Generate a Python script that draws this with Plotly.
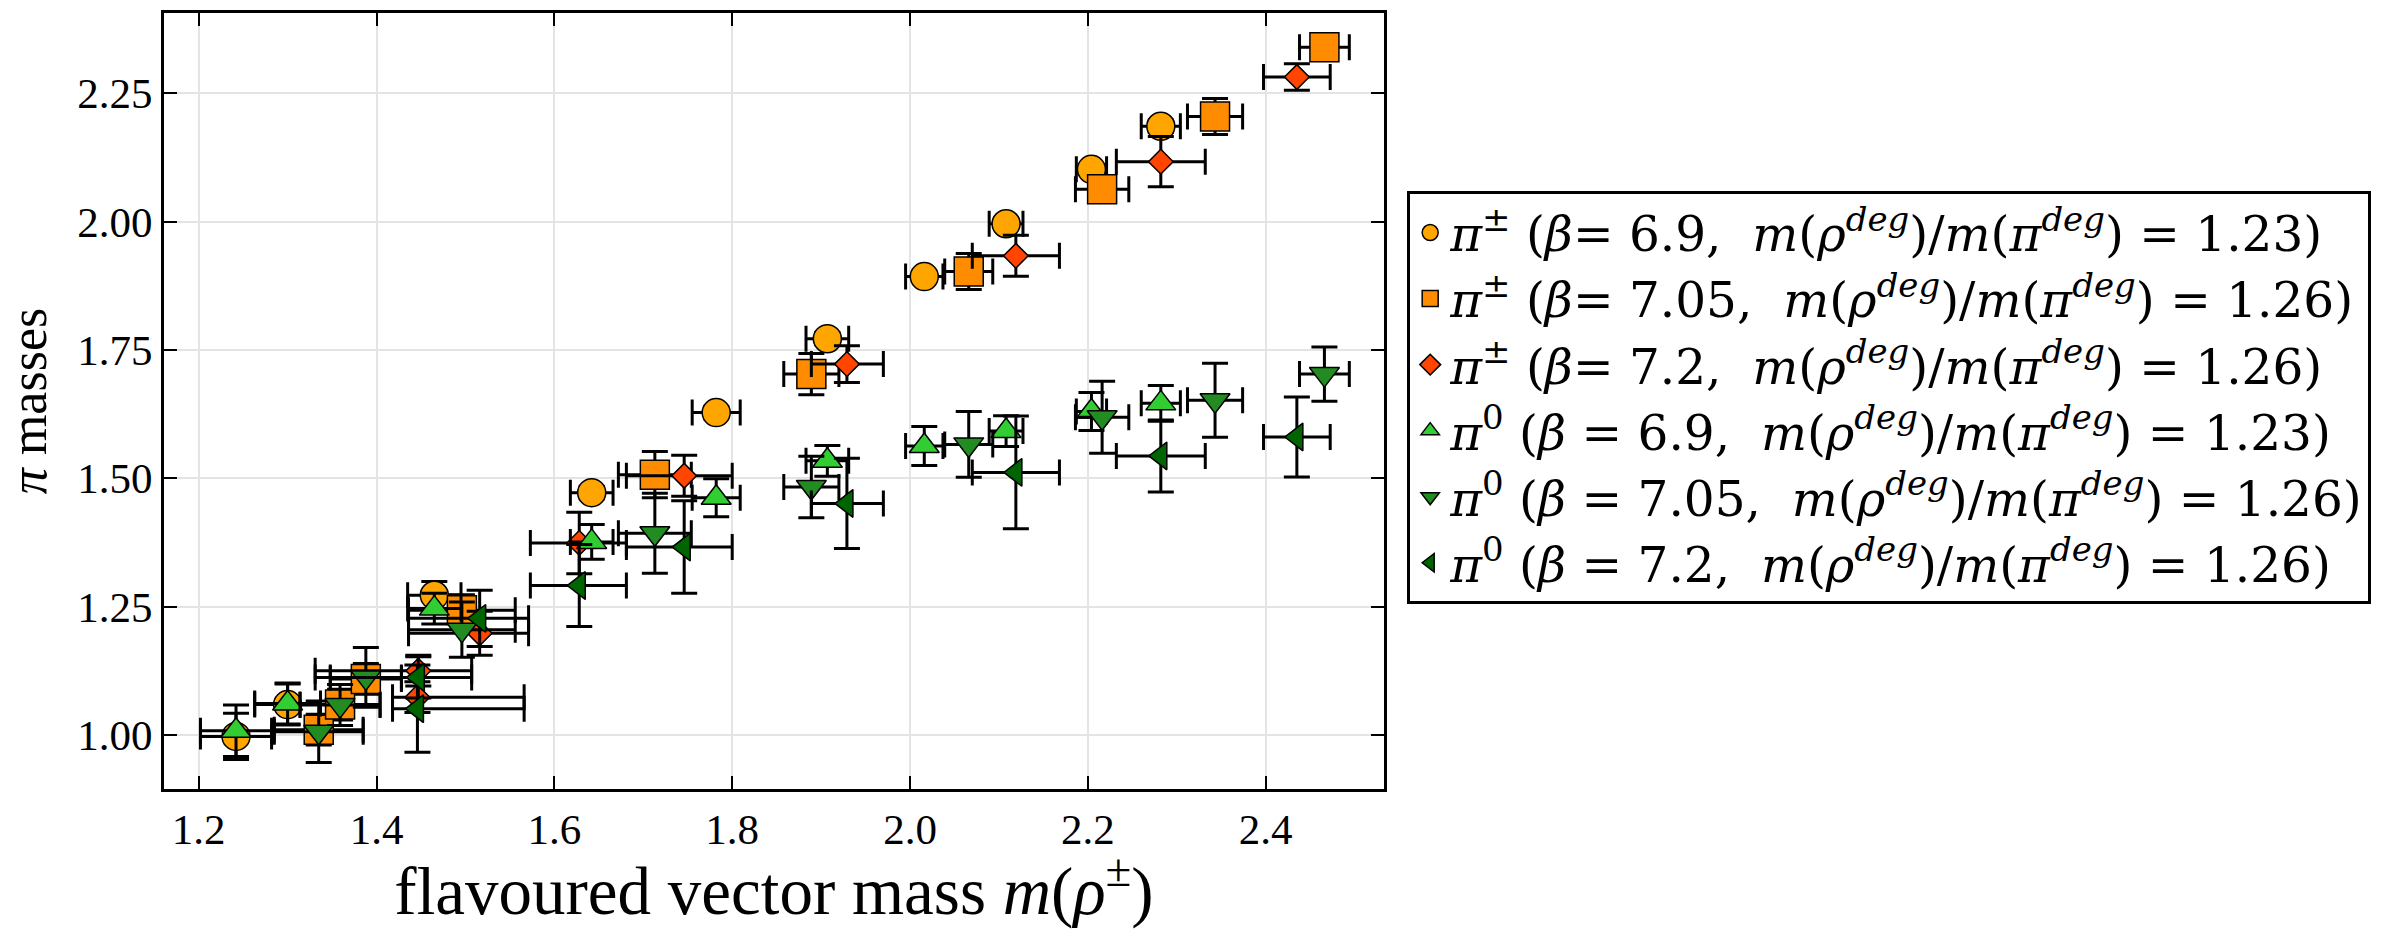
import plotly.graph_objects as go

# ---- data ----
# beta = 6.9  (pi+- circles, pi0 up-triangles) share the rho mass
x_b69 = [1.242, 1.300, 1.465, 1.642, 1.782, 1.907, 2.016, 2.108, 2.204, 2.282]
xerr_b69 = [0.040, 0.037, 0.030, 0.024, 0.027, 0.024, 0.021, 0.019, 0.017, 0.022]
pipm_b69 = [0.997, 1.059, 1.272, 1.472, 1.628, 1.772, 1.893, 1.996, 2.102, 2.186]
pipm_b69_err = [0.045, 0.040, 0.027, 0.012, 0.012, 0.012, 0.010, 0.010, 0.010, 0.012]
pi0_b69 = [1.008, 1.061, 1.246, 1.376, 1.462, 1.534, 1.563, 1.592, 1.630, 1.646]
pi0_b69_err = [0.050, 0.040, 0.030, 0.034, 0.037, 0.030, 0.038, 0.030, 0.037, 0.035]

# beta = 7.05  (pi+- squares, pi0 down-triangles)
x_b705 = [1.335, 1.359, 1.388, 1.496, 1.713, 1.889, 2.066, 2.216, 2.343, 2.466]
xerr_b705 = [0.050, 0.045, 0.040, 0.060, 0.041, 0.031, 0.027, 0.030, 0.031, 0.028]
pipm_b705 = [1.010, 1.059, 1.109, 1.243, 1.507, 1.703, 1.903, 2.063, 2.205, 2.340]
pipm_b705_err = [0.030, 0.030, 0.030, 0.030, 0.045, 0.040, 0.035, 0.025, 0.035, 0.020]
pi0_b705 = [1.006, 1.058, 1.112, 1.205, 1.393, 1.483, 1.566, 1.619, 1.652, 1.703]
pi0_b705_err = [0.060, 0.040, 0.058, 0.054, 0.078, 0.060, 0.064, 0.070, 0.072, 0.053]

# beta = 7.2  (pi+- diamonds, pi0 left-triangles)
x_b72 = [1.446, 1.447, 1.516, 1.628, 1.746, 1.929, 2.119, 2.282, 2.435]
xerr_b72_minus = [0.028, 0.116, 0.080, 0.055, 0.065, 0.040, 0.049, 0.050, 0.0375]
xerr_b72_plus = [0.120, 0.060, 0.055, 0.053, 0.054, 0.041, 0.049, 0.050, 0.0375]
pipm_b72 = [1.0735, 1.125, 1.198, 1.374, 1.505, 1.7225, 1.9335, 2.117, 2.282]
pipm_b72_err = [0.030, 0.030, 0.043, 0.060, 0.040, 0.036, 0.040, 0.049, 0.026]
pi0_b72 = [1.051, 1.112, 1.227, 1.291, 1.366, 1.451, 1.5115, 1.5435, 1.5805]
pi0_b72_err = [0.085, 0.040, 0.055, 0.080, 0.090, 0.088, 0.110, 0.070, 0.078]

x_ticks = [1.2, 1.4, 1.6, 1.8, 2.0, 2.2, 2.4]
y_ticks = [1.00, 1.25, 1.50, 1.75, 2.00, 2.25]

names = [
    "<i>π</i><sup>±</sup> (<i>β</i>= 6.9,  <i>m</i>(<i>ρ</i><sup><i>deg</i></sup>)/<i>m</i>(<i>π</i><sup><i>deg</i></sup>) = 1.23)",
    "<i>π</i><sup>±</sup> (<i>β</i>= 7.05,  <i>m</i>(<i>ρ</i><sup><i>deg</i></sup>)/<i>m</i>(<i>π</i><sup><i>deg</i></sup>) = 1.26)",
    "<i>π</i><sup>±</sup> (<i>β</i>= 7.2,  <i>m</i>(<i>ρ</i><sup><i>deg</i></sup>)/<i>m</i>(<i>π</i><sup><i>deg</i></sup>) = 1.26)",
    "<i>π</i><sup>0</sup> (<i>β</i> = 6.9,  <i>m</i>(<i>ρ</i><sup><i>deg</i></sup>)/<i>m</i>(<i>π</i><sup><i>deg</i></sup>) = 1.23)",
    "<i>π</i><sup>0</sup> (<i>β</i> = 7.05,  <i>m</i>(<i>ρ</i><sup><i>deg</i></sup>)/<i>m</i>(<i>π</i><sup><i>deg</i></sup>) = 1.26)",
    "<i>π</i><sup>0</sup> (<i>β</i> = 7.2,  <i>m</i>(<i>ρ</i><sup><i>deg</i></sup>)/<i>m</i>(<i>π</i><sup><i>deg</i></sup>) = 1.26)",
]

series = [
    dict(x=x_b69, xm=xerr_b69, xp=xerr_b69, y=pipm_b69, ye=pipm_b69_err,
         sym="circle", size=28, color="#FFA500"),
    dict(x=x_b705, xm=xerr_b705, xp=xerr_b705, y=pipm_b705, ye=pipm_b705_err,
         sym="square", size=29, color="#FF8C00"),
    dict(x=x_b72, xm=xerr_b72_minus, xp=xerr_b72_plus, y=pipm_b72, ye=pipm_b72_err,
         sym="diamond", size=19, color="#FF4500"),
    dict(x=x_b69, xm=xerr_b69, xp=xerr_b69, y=pi0_b69, ye=pi0_b69_err,
         sym="triangle-up", size=26, color="#32CD32"),
    dict(x=x_b705, xm=xerr_b705, xp=xerr_b705, y=pi0_b705, ye=pi0_b705_err,
         sym="triangle-down", size=26, color="#228B22"),
    dict(x=x_b72, xm=xerr_b72_minus, xp=xerr_b72_plus, y=pi0_b72, ye=pi0_b72_err,
         sym="triangle-left", size=24, color="#006400"),
]

fig = go.Figure()
for s, nm in zip(series, names):
    fig.add_trace(go.Scatter(
        x=s["x"], y=s["y"], mode="markers", name=nm,
        marker=dict(symbol=s["sym"], size=s["size"], color=s["color"],
                    line=dict(color="black", width=1.5)),
        error_x=dict(type="data", symmetric=False, array=s["xp"], arrayminus=s["xm"],
                     color="black", thickness=3, width=13),
        error_y=dict(type="data", array=s["ye"], color="black", thickness=3, width=13),
    ))

font_family = "Liberation Serif"
axis_common = dict(
    ticks="inside", ticklen=13, tickwidth=2, tickcolor="black",
    showline=True, linewidth=3, linecolor="black", mirror="ticks",
    showgrid=True, gridcolor="#e4e4e4", gridwidth=1.5, zeroline=False,
    tickfont=dict(family=font_family, size=43, color="black"),
)

fig.update_layout(
    width=2392, height=929,
    margin=dict(l=164, r=1008, t=10, b=132, pad=0),
    paper_bgcolor="white", plot_bgcolor="white",
    font=dict(family=font_family, color="black"),
    xaxis=dict(range=[1.161, 2.533], tickvals=x_ticks,
               ticktext=[f"{v:.1f}" for v in x_ticks],
               title=dict(text="flavoured vector mass <i>m</i>(<i>ρ</i><sup>±</sup>)",
                          font=dict(family=font_family, size=67), standoff=20),
               **axis_common),
    yaxis=dict(range=[0.8945, 2.4067], tickvals=y_ticks,
               ticktext=[f"{v:.2f}" for v in y_ticks],
               title=dict(text="<i>π</i> masses",
                          font=dict(family=font_family, size=52), standoff=24),
               **axis_common),
    legend=dict(x=1.019, y=0.77, xanchor="left", yanchor="top",
                bgcolor="white", bordercolor="black", borderwidth=3,
                font=dict(family="DejaVu Serif", size=48.5, color="black"),
                tracegroupgap=0, itemwidth=30),
    showlegend=True,
)

fig.write_html("out.html", config={"displayModeBar": False},
               post_script="document.body.style.margin='0';")
